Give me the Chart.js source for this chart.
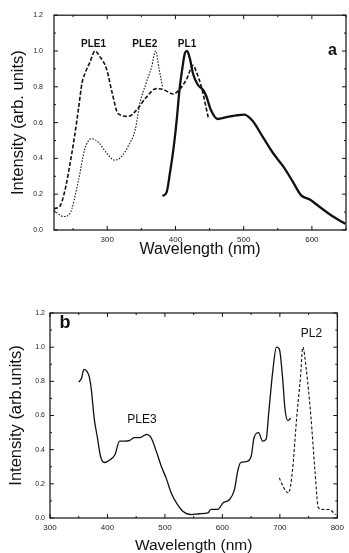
<!DOCTYPE html>
<html>
<head>
<meta charset="utf-8">
<script src="https://cdn.jsdelivr.net/npm/chart.js@4.4.0/dist/chart.umd.min.js"></script>
<style>
    html, body { margin: 0; padding: 0; background: #fff; overflow: hidden; }
    #wrapA { position: absolute; left: 0; top: 0; width: 349px; height: 262px; }
    #wrapB { position: absolute; left: 0; top: 262px; width: 349px; height: 291px; }
</style>
</head>
<body>
<div id="wrapA"><canvas id="chartA"></canvas></div>
<div id="wrapB"><canvas id="chartB"></canvas></div>
<script>
"use strict";

// panel a
const ple1X = [222, 230, 238, 245, 252, 258, 263, 268, 275, 282, 289, 299, 307, 316, 331, 343, 357, 372, 382, 397, 406, 416, 426, 431, 438, 448];
const ple1Y = [0.12, 0.13, 0.22, 0.36, 0.52, 0.68, 0.82, 0.88, 0.94, 1.00, 0.97, 0.90, 0.77, 0.65, 0.635, 0.67, 0.74, 0.79, 0.785, 0.76, 0.785, 0.84, 0.92, 0.88, 0.80, 0.63];

const ple2X = [222, 236, 245, 258, 267, 277, 287, 299, 311, 321, 331, 341, 348, 357, 365, 371, 376, 381];
const ple2Y = [0.11, 0.075, 0.09, 0.28, 0.45, 0.51, 0.49, 0.43, 0.39, 0.41, 0.47, 0.56, 0.71, 0.82, 0.91, 1.00, 0.90, 0.80];

const pl1X = [381, 387, 392, 397, 402, 406, 410, 414, 417, 421, 426, 433, 440, 445, 452, 462, 475, 489, 501, 513, 528, 543, 558, 572, 584, 597, 611, 631, 649];
const pl1Y = [0.19, 0.21, 0.32, 0.45, 0.62, 0.785, 0.90, 0.99, 1.00, 0.96, 0.87, 0.81, 0.785, 0.75, 0.67, 0.62, 0.63, 0.64, 0.645, 0.61, 0.52, 0.43, 0.355, 0.27, 0.195, 0.17, 0.13, 0.075, 0.035];

const xTicksA = [300, 400, 500, 600];

// panel b
const ple3X = [350, 355, 359, 364, 368, 372, 377, 382, 388, 395, 404, 413, 421, 430, 439, 447, 456, 468, 476, 485, 494, 502, 511, 520, 531, 546, 560, 575, 580, 592, 601, 612, 621, 627, 632, 641, 650, 655, 663, 670, 676, 681, 688, 694, 699, 705, 709, 714, 719];
const ple3Y = [0.795, 0.82, 0.87, 0.86, 0.83, 0.75, 0.58, 0.48, 0.36, 0.325, 0.34, 0.37, 0.45, 0.45, 0.455, 0.47, 0.47, 0.49, 0.47, 0.39, 0.30, 0.235, 0.146, 0.088, 0.04, 0.02, 0.025, 0.03, 0.05, 0.05, 0.088, 0.107, 0.166, 0.28, 0.325, 0.33, 0.36, 0.47, 0.50, 0.45, 0.46, 0.63, 0.87, 1.00, 0.99, 0.81, 0.635, 0.57, 0.585];

const pl2X = [699, 707, 715, 722, 729, 736, 740, 746, 754, 761, 767, 777, 785, 797];
const pl2Y = [0.235, 0.176, 0.146, 0.28, 0.576, 0.83, 1.00, 0.87, 0.595, 0.28, 0.06, 0.05, 0.05, 0.02];

const xTicksB = [300, 400, 500, 600, 700, 800];

const yTicks = [0, 0.2, 0.4, 0.6, 0.8, 1.0, 1.2];

const FONT = "'Liberation Sans', Arial, sans-serif";

function toPoints(xs, ys) {
    return xs.map((x, i) => ({x: x, y: ys[i]}));
}

function lineSet(xs, ys, width, dash) {
    return {
        data: toPoints(xs, ys),
        showLine: true,
        borderColor: "#111",
        borderWidth: width,
        borderDash: dash,
        pointRadius: 0,
        cubicInterpolationMode: "monotone",
        fill: false
    };
}

// frame, inward ticks on all four sides, text labels
const framePlugin = {
    id: "frame",
    afterDraw(chart, args, opts) {
        const ctx = chart.ctx;
        const a = chart.chartArea;
        const xs = chart.scales.x;
        const ys = chart.scales.y;
        ctx.save();
        ctx.strokeStyle = "#111";
        ctx.lineWidth = 1.2;
        ctx.strokeRect(a.left, a.top, a.right - a.left, a.bottom - a.top);
        ctx.lineWidth = 1;
        ctx.beginPath();
        for (let v = Math.ceil(xs.min / opts.xMinor) * opts.xMinor; v <= xs.max; v += opts.xMinor) {
            let len = (Math.abs(v % opts.xMajor) < 0.001) ? 4 : 2;
            let px = xs.getPixelForValue(v);
            ctx.moveTo(px, a.bottom); ctx.lineTo(px, a.bottom - len);
            ctx.moveTo(px, a.top); ctx.lineTo(px, a.top + len);
        }
        for (let k = 0; k <= 12; k++) {
            let len = (k % 2 === 0) ? 4 : 2;
            let py = ys.getPixelForValue(k / 10);
            ctx.moveTo(a.left, py); ctx.lineTo(a.left + len, py);
            ctx.moveTo(a.right, py); ctx.lineTo(a.right - len, py);
        }
        ctx.stroke();

        ctx.fillStyle = "#111";
        ctx.textAlign = "center";
        ctx.textBaseline = "middle";
        opts.labels.forEach((lb) => {
            ctx.font = lb.font + " " + FONT;
            ctx.fillText(lb.text, xs.getPixelForValue(lb.x), ys.getPixelForValue(lb.y));
        });
        ctx.restore();
    }
};

function makeChart(id, datasets, cfg) {
    return new Chart(document.getElementById(id), {
        type: "scatter",
        data: {datasets: datasets},
        plugins: [framePlugin],
        options: {
            responsive: true,
            maintainAspectRatio: false,
            animation: false,
            layout: {padding: cfg.padding},
            plugins: {
                legend: {display: false},
                tooltip: {enabled: false},
                frame: {xMinor: 50, xMajor: 100, labels: cfg.labels}
            },
            scales: {
                x: {
                    type: "linear",
                    min: cfg.xMin,
                    max: cfg.xMax,
                    afterBuildTicks: (s) => { s.ticks = cfg.xTicks.map((v) => ({value: v})); },
                    afterFit: (s) => { s.height = cfg.xHeight; },
                    grid: {display: false, drawTicks: false, tickLength: 0},
                    border: {display: false},
                    ticks: {color: "#222", font: {family: FONT, size: 8}, padding: cfg.xTickPad, maxRotation: 0},
                    title: {display: true, text: "Wavelength (nm)", color: "#111",
                        font: {family: FONT, size: cfg.xTitleSize}, padding: {top: 0, bottom: cfg.xTitlePad}}
                },
                y: {
                    type: "linear",
                    min: 0,
                    max: 1.2,
                    afterBuildTicks: (s) => { s.ticks = yTicks.map((v) => ({value: v})); },
                    afterFit: (s) => { s.width = cfg.yWidth; },
                    grid: {display: false, drawTicks: false, tickLength: 0},
                    border: {display: false},
                    ticks: {color: "#222", font: {family: FONT, size: 7}, padding: cfg.yTickPad,
                        callback: (v) => v.toFixed(1)},
                    title: {display: true, text: cfg.yTitle, color: "#111",
                        font: {family: FONT, size: cfg.yTitleSize}, padding: {top: cfg.yTitlePad, bottom: 0}}
                }
            }
        }
    });
}

makeChart("chartA", [
    lineSet(ple1X, ple1Y, 1.6, [4, 2]),
    lineSet(ple2X, ple2Y, 1.1, [1.5, 1.5]),
    lineSet(pl1X, pl1Y, 2.3, [])
], {
    padding: {left: 0, top: 15, right: 3, bottom: 0},
    xMin: 222, xMax: 650, xTicks: xTicksA,
    xHeight: 32, xTickPad: 5, xTitleSize: 16, xTitlePad: 3,
    yWidth: 54, yTickPad: 11, yTitle: "Intensity (arb. units)", yTitleSize: 16.5, yTitlePad: 9,
    labels: [
        {text: "PLE1", x: 280, y: 1.04, font: "bold 10px"},
        {text: "PLE2", x: 355, y: 1.04, font: "bold 10px"},
        {text: "PL1", x: 417, y: 1.04, font: "bold 10px"},
        {text: "a", x: 630, y: 1.0, font: "bold 16px"}
    ]
});

makeChart("chartB", [
    lineSet(ple3X, ple3Y, 1.3, []),
    lineSet(pl2X, pl2Y, 1.1, [3, 2])
], {
    padding: {left: 0, top: 51, right: 11, bottom: 0},
    xMin: 300, xMax: 800, xTicks: xTicksB,
    xHeight: 35, xTickPad: 5, xTitleSize: 15.5, xTitlePad: -2,
    yWidth: 50, yTickPad: 5, yTitle: "Intensity (arb.units)", yTitleSize: 16.5, yTitlePad: 7,
    labels: [
        {text: "b", x: 326, y: 1.14, font: "bold 18px"},
        {text: "PL2", x: 755, y: 1.08, font: "12px"},
        {text: "PLE3", x: 460, y: 0.575, font: "12px"}
    ]
});
</script>
</body>
</html>
